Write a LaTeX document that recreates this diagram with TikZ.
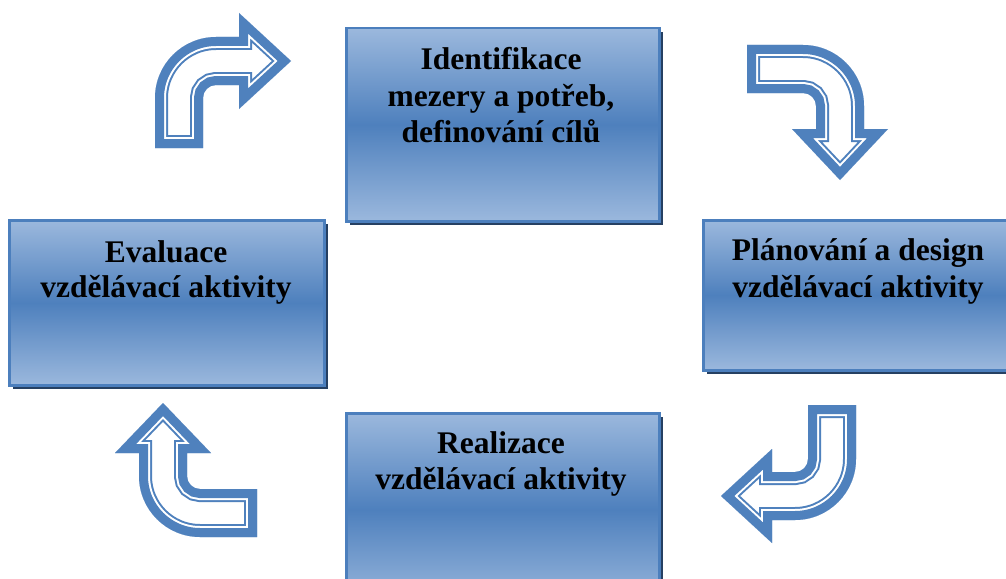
\documentclass[tikz,border=0pt]{standalone}
\usepackage{fontspec}
\setmainfont{Liberation Serif}
\definecolor{arrowblue}{RGB}{79,129,189}
\definecolor{boxlight}{RGB}{155,184,221}
\definecolor{boxdark}{RGB}{78,128,189}
\definecolor{boxedge}{RGB}{76,127,189}
\definecolor{boxshadow}{RGB}{38,64,98}

% outlined bent arrow: thick outer band, thin white gap, thin inner line
\newcommand\outlinedarrow[1]{%
  \begin{scope}
    \clip #1;
    \fill[white] #1;
    \draw[arrowblue, line width=26pt, line join=miter] #1;
    \draw[white, line width=22pt, line join=miter] #1;
    \draw[arrowblue, line width=18pt, line join=miter] #1;
  \end{scope}}

\begin{document}
\begin{tikzpicture}[x=1pt, y=-1pt,
  stagebox/.style={rectangle, draw=boxedge, line width=2.5pt, inner sep=0pt,
    anchor=north west,
    top color=boxlight, bottom color=boxlight, middle color=boxdark,
    preaction={fill=boxshadow, transform canvas={shift={(4pt,-4pt)}}}},
  lbl/.style={anchor=base, inner sep=0pt, text=black,
    font=\fontsize{31.5}{36}\selectfont\bfseries}]
\useasboundingbox (0,0) rectangle (1006,578);
\clip (0,0) rectangle (1006,578);

% stage boxes
\node[stagebox, minimum width=313pt, minimum height=193pt] (ident) at (345,27) {};
\node[stagebox, minimum width=312pt, minimum height=150pt] (plan)  at (702,219) {};
\node[stagebox, minimum width=313pt, minimum height=193pt] (real)  at (345,412) {};
\node[stagebox, minimum width=315pt, minimum height=165pt] (eval)  at (8,219) {};

% stage labels
\node[lbl] (ident1) at (501,70)  {Identifikace};
\node[lbl] (ident2) at (501,106) {mezery a potřeb,};
\node[lbl] (ident3) at (501,142) {definování cílů};
\node[lbl] (plan1)  at (858,260) {Plánování a design};
\node[lbl] (plan2)  at (858,297) {vzdělávací aktivity};
\node[lbl] (real1)  at (501,453) {Realizace};
\node[lbl] (real2)  at (501,489) {vzdělávací aktivity};
\node[lbl] (eval1)  at (166,262) {Evaluace};
\node[lbl] (eval2)  at (166,297) {vzdělávací aktivity};

% cycle arrows
\outlinedarrow{(155,148) -- (155,98) arc[start angle=180, end angle=270, radius=61]
  -- (239,37) -- (239,13) -- (291,61) -- (239,109) -- (239,85) -- (216,85)
  arc[start angle=270, end angle=180, radius=13] -- (203,148) -- cycle}
\outlinedarrow{(747,45) -- (803,45) arc[start angle=270, end angle=360, radius=61]
  -- (864,129) -- (888,129) -- (840,180) -- (792,129) -- (816,129) -- (816,106)
  arc[start angle=0, end angle=-90, radius=13] -- (747,93) -- cycle}
\outlinedarrow{(808,405) -- (856,405) -- (856,459) arc[start angle=0, end angle=90, radius=61]
  -- (772,520) -- (772,543) -- (721,496) -- (772,449) -- (772,472) -- (795,472)
  arc[start angle=90, end angle=0, radius=13] -- cycle}
\outlinedarrow{(257,489) -- (257,537) -- (200,537) arc[start angle=90, end angle=180, radius=61]
  -- (139,453) -- (115,453) -- (163,403) -- (211,453) -- (187,453) -- (187,476)
  arc[start angle=180, end angle=90, radius=13] -- cycle}
\end{tikzpicture}
\end{document}
